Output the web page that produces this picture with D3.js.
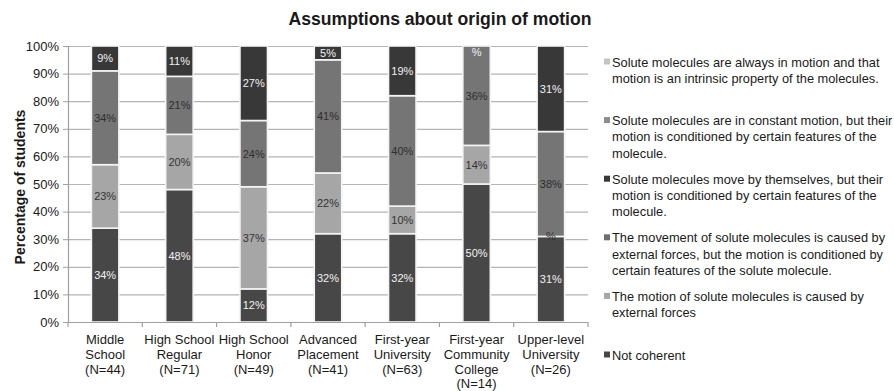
<!DOCTYPE html>
<html>
<head>
<meta charset="utf-8">
<script src="https://cdn.jsdelivr.net/npm/d3@7/dist/d3.min.js"></script>
<style>
  html, body { margin: 0; padding: 0; background: #fff; }
  svg { display: block; font-family: "Liberation Sans", Arial, Helvetica, sans-serif; }
</style>
</head>
<body>
<svg id="chart" width="894" height="391"></svg>
<script>
// Student groups (x axis), each line of a label separated by "\n"
const categories = [
  "Middle\nSchool\n(N=44)",
  "High School\nRegular\n(N=71)",
  "High School\nHonor\n(N=49)",
  "Advanced\nPlacement\n(N=41)",
  "First-year\nUniversity\n(N=63)",
  "First-year\nCommunity\nCollege\n(N=14)",
  "Upper-level\nUniversity\n(N=26)"
];

// Percent of students per assumption, listed from the bottom of each stack upward.
// null = blank cell (no segment, no label)
const notCoherent        = [34, 48, 12, 32, 32, 50, 31];
const externalForces     = [23, 20, 37, 22, 10, 14, 0];
const externalConditioned= [34, 21, 24, 41, 40, 36, 38];
const moveByThemselves   = [9, 11, 27, 5, 19, 0, 31];
const constantMotion     = [null, null, null, null, null, null, null];
const alwaysInMotion     = [null, null, null, null, null, null, null];

const seriesNames = [
  "Not coherent",
  "The motion of solute molecules is caused by external forces",
  "The movement of solute molecules is caused by external forces, but the motion is conditioned by certain features of the solute molecule.",
  "Solute molecules move by themselves, but their motion is conditioned by certain features of the molecule.",
  "Solute molecules are in constant motion, but their motion is conditioned by certain features of the molecule.",
  "Solute molecules are always in motion and that motion is an intrinsic property of the molecules."
];
const seriesValues = [notCoherent, externalForces, externalConditioned, moveByThemselves, constantMotion, alwaysInMotion];

const yTicks = [0, 10, 20, 30, 40, 50, 60, 70, 80, 90, 100];

// Legend text, wrapped as drawn beside the plot (top entry = top of stack)
const legendLines = [
  ["Solute molecules are always in motion and that", "motion is an intrinsic property of the molecules."],
  ["Solute molecules are in constant motion, but their", "motion is conditioned by certain features of the", "molecule."],
  ["Solute molecules move by themselves, but their", "motion is conditioned by certain features of the", "molecule."],
  ["The movement of solute molecules is caused by", "external forces, but the motion is conditioned by", "certain features of the solute molecule."],
  ["The motion of solute molecules is caused by", "external forces"],
  ["Not coherent"]
];

// Styling
const fills = ["#474747", "#a6a6a6", "#757575", "#383838", "#8c8c8c", "#c4c4c4"];
const legendFills = ["#c4c4c4", "#8c8c8c", "#383838", "#6e6e6e", "#a6a6a6", "#474747"];
const labelColors = ["#f2f2f2", "#333333", "#2e2e2e", "#f2f2f2", "#333333", "#333333"];

const svg = d3.select("#chart");
const plot = { left: 68, right: 588, top: 46, bottom: 322 };

const x = d3.scaleBand()
  .domain(categories)
  .range([plot.left, plot.right])
  .paddingInner(0.63)
  .paddingOuter(0.315);

const y = d3.scaleLinear().domain([0, 100]).range([plot.bottom, plot.top]);

// Title
svg.append("text")
  .attr("x", 440).attr("y", 25)
  .attr("text-anchor", "middle")
  .attr("font-size", "17.6px").attr("font-weight", "bold")
  .attr("fill", "#1a1a1a")
  .text("Assumptions about origin of motion");

// Y axis title
svg.append("text")
  .attr("transform", `translate(25,${(plot.top + plot.bottom) / 2 + 3}) rotate(-90)`)
  .attr("text-anchor", "middle")
  .attr("font-size", "14px").attr("font-weight", "bold")
  .attr("fill", "#1a1a1a")
  .text("Percentage of students");

// Horizontal gridlines
svg.append("g")
  .selectAll("line")
  .data(yTicks)
  .join("line")
  .attr("x1", plot.left).attr("x2", plot.right)
  .attr("y1", d => y(d) + 0.5).attr("y2", d => y(d) + 0.5)
  .attr("stroke", "#b4b4b4").attr("stroke-width", 1.2);

// Y axis
const yAxis = svg.append("g")
  .attr("transform", `translate(${plot.left},0)`)
  .call(d3.axisLeft(y).tickValues(yTicks).tickFormat(d => d + "%").tickSize(5).tickPadding(4));
yAxis.select(".domain").attr("stroke", "#a0a0a0").attr("stroke-width", 1.2);
yAxis.selectAll(".tick line").attr("stroke", "#a0a0a0");
yAxis.selectAll(".tick text")
  .attr("font-size", "13px").attr("fill", "#1a1a1a")
  .attr("font-family", "'Liberation Sans', Arial, sans-serif");

// Stacked data
const stacked = categories.map((c, i) => {
  let base = 0;
  return seriesValues.map((vals, s) => {
    const v = vals[i];
    const y0 = base;
    const y1 = base + (v == null ? 0 : v);
    base = y1;
    return { cat: c, s, v, y0, y1 };
  });
});

// Bars
const barG = svg.append("g");
stacked.forEach(segs => {
  barG.selectAll(null)
    .data(segs.filter(d => d.v != null && d.v > 0))
    .join("rect")
    .attr("x", d => x(d.cat))
    .attr("width", x.bandwidth())
    .attr("y", d => y(Math.min(d.y1, 100)))
    .attr("height", d => y(d.y0) - y(Math.min(d.y1, 100)))
    .attr("fill", d => fills[d.s])
    .attr("stroke", "#f4f4f4").attr("stroke-width", 1.6);
});

// Bottom axis line and category separators
svg.append("line")
  .attr("x1", plot.left).attr("x2", plot.right)
  .attr("y1", plot.bottom + 0.5).attr("y2", plot.bottom + 0.5)
  .attr("stroke", "#a0a0a0").attr("stroke-width", 1.2);
const step = x.step();
svg.append("g")
  .selectAll("line")
  .data(d3.range(categories.length + 1))
  .join("line")
  .attr("x1", i => plot.left + i * step).attr("x2", i => plot.left + i * step)
  .attr("y1", plot.bottom).attr("y2", plot.bottom + 5)
  .attr("stroke", "#a0a0a0").attr("stroke-width", 1.2);

// Category labels
const catG = svg.append("g");
categories.forEach(c => {
  const t = catG.append("text")
    .attr("x", x(c) + x.bandwidth() / 2)
    .attr("y", 344)
    .attr("text-anchor", "middle")
    .attr("font-size", "13px").attr("fill", "#1a1a1a");
  c.split("\n").forEach((line, k) => {
    t.append("tspan").attr("x", x(c) + x.bandwidth() / 2).attr("dy", k === 0 ? 0 : 14.8).text(line);
  });
});

// Data labels ("#%" style: zero shows only the percent sign)
const fmt = v => (v === 0 ? "%" : v + "%");
stacked.forEach(segs => {
  barG.selectAll(null)
    .data(segs.filter(d => d.v != null))
    .join("text")
    .attr("x", d => x(d.cat) + x.bandwidth() / 2)
    .attr("y", d => {
      const mid = y((d.y0 + Math.min(d.y1, 100)) / 2);
      return Math.max(mid, plot.top + 6) + 4;
    })
    .attr("text-anchor", "middle")
    .attr("font-size", "11px")
    .attr("fill", d => labelColors[d.s])
    .text(d => fmt(d.v));
});

// Legend
const legendTop = 62;
const legendGap = 58.6;
const legendG = svg.append("g");
legendLines.forEach((lines, i) => {
  const yy = legendTop + i * legendGap;
  legendG.append("rect")
    .attr("x", 604).attr("y", yy - 3.5)
    .attr("width", 6).attr("height", 6)
    .attr("fill", legendFills[i]);
  const t = legendG.append("text")
    .attr("x", 612).attr("y", yy + 4.5)
    .attr("font-size", "12.8px").attr("fill", "#1a1a1a");
  lines.forEach((line, k) => {
    t.append("tspan").attr("x", 612).attr("dy", k === 0 ? 0 : 16.2).text(line);
  });
});
</script>
</body>
</html>
